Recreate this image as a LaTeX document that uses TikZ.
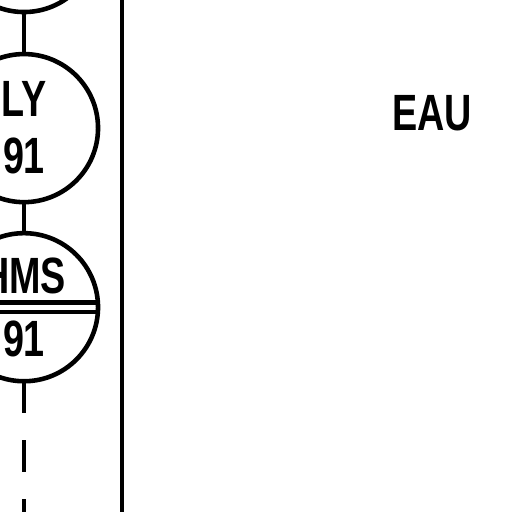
\documentclass[tikz,border=0pt]{standalone}
\usepackage{fontspec}
\setmainfont{Liberation Sans}[FakeStretch=0.74]
\usetikzlibrary{positioning}

\begin{document}
\begin{tikzpicture}[
x=0.01cm, y=-0.01cm,
inst/.style={draw, circle, line width=1.3pt, minimum size=1.48cm, inner sep=0pt, outer sep=0pt, align=center, font=\bfseries\fontsize{14.5}{16.2}\selectfont},
link/.style={line width=1.3pt},
lbl/.style={font=\bfseries\fontsize{14.5}{16}\selectfont, inner sep=0pt}
]
\useasboundingbox (0,0) rectangle (512,512);
\clip (0,0) rectangle (512,512);
\node[inst] (up) at (24,-62) {};
\node[inst, below=0.42cm of up] (ly) {LY\\91};
\node[inst, below=0.31cm of ly, font=\bfseries\fontsize{14.5}{17.9}\selectfont] (hms) {HMS\\91};
\draw[link] ([yshift=1.4pt]hms.west) -- ([yshift=1.4pt]hms.east);
\draw[link] ([yshift=-1.4pt]hms.west) -- ([yshift=-1.4pt]hms.east);
\coordinate (dn) at (24,530);
\coordinate (bt) at (122,-10);
\coordinate (bb) at (122,530);

\draw[link] (up) -- (ly);
\draw[link] (ly) -- (hms);
\draw[link, dash pattern=on 0.32cm off 0.27cm] (hms) -- (dn);
\draw[line width=1.4pt] (bt) -- (bb);

\node[lbl] (eau) at (432,113) {EAU};
\end{tikzpicture}
\end{document}
